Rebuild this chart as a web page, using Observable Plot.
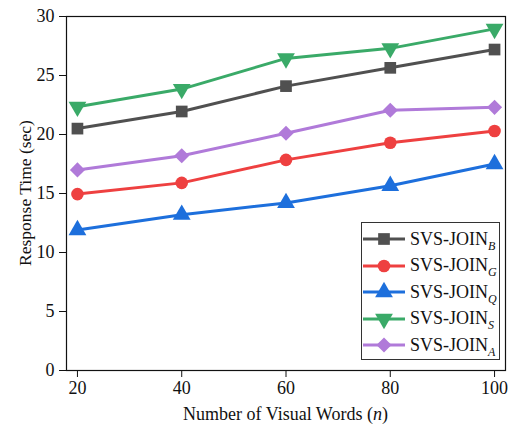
<!DOCTYPE html>
<html>
<head>
<meta charset="utf-8">
<script src="https://cdn.jsdelivr.net/npm/d3@7"></script>
<script src="https://cdn.jsdelivr.net/npm/@observablehq/plot@0.6"></script>
<style>
  html, body { margin: 0; padding: 0; background: #fff; }
  #wrap { position: relative; width: 517px; height: 433px; font-family: "Liberation Serif", "Times New Roman", serif; }
  #xlabel { position: absolute; left: 66px; width: 439px; top: 403px; line-height: 22px; text-align: center; font-size: 18px; color: #111; }
  #ylabel { position: absolute; left: 25px; top: 193px; transform: translate(-50%, -50%) rotate(-90deg); white-space: nowrap; font-size: 17.5px; line-height: 20px; color: #111; }
  #legend { position: absolute; left: 361px; top: 222px; width: 139px; height: 138px; border: 1px solid #333; box-sizing: border-box; background: #fff; }
  .row { position: absolute; left: 0; height: 26px; display: flex; align-items: center; font-size: 18px; color: #111; }
  .row svg { display: block; }
  .row span { margin-left: 4px; white-space: nowrap; }
  .row sub { font-style: italic; font-size: 12px; vertical-align: -5px; line-height: 0; }
</style>
</head>
<body>
<div id="wrap"></div>
<script>
const words = [20, 40, 60, 80, 100];
const seriesNames = ["B", "G", "Q", "S", "A"];
const valuesB = [20.5, 21.95, 24.1, 25.65, 27.2];
const valuesG = [14.95, 15.9, 17.85, 19.3, 20.3];
const valuesQ = [11.9, 13.2, 14.2, 15.65, 17.5];
const valuesS = [22.35, 23.85, 26.45, 27.3, 28.95];
const valuesA = [17.0, 18.2, 20.1, 22.05, 22.3];
const yTicks = [0, 5, 10, 15, 20, 25, 30];

const colors = { B: "#505050", G: "#ee4040", Q: "#1d6fdc", S: "#3aaa68", A: "#b07ad9" };

const triangleDown = {
  draw(context, size) {
    const y = -Math.sqrt(size / (Math.sqrt(3) * 3));
    context.moveTo(0, -2 * y);
    context.lineTo(-Math.sqrt(3) * y, y);
    context.lineTo(Math.sqrt(3) * y, y);
    context.closePath();
  }
};
const symbols = { B: d3.symbolSquare, G: d3.symbolCircle, Q: d3.symbolTriangle, S: triangleDown, A: d3.symbolDiamond2 };
const radii = { B: 6.6, G: 6.3, Q: 6.6, S: 6.6, A: 6.8 };

const valueMap = { B: valuesB, G: valuesG, Q: valuesQ, S: valuesS, A: valuesA };
const rows = [];
for (const s of seriesNames) valueMap[s].forEach((v, i) => rows.push({ s, x: words[i], y: v }));

const marks = [Plot.frame({ stroke: "#111", strokeWidth: 1.2 })];
for (const s of seriesNames) {
  const d = rows.filter(r => r.s === s);
  marks.push(Plot.line(d, { x: "x", y: "y", stroke: colors[s], strokeWidth: 3 }));
  marks.push(Plot.dot(d, { x: "x", y: "y", fill: colors[s], symbol: () => symbols[s], r: radii[s], stroke: "none" }));
}

const chart = Plot.plot({
  width: 517,
  height: 433,
  marginLeft: 66,
  marginRight: 12,
  marginTop: 16,
  marginBottom: 63,
  style: { fontFamily: "'Liberation Serif', 'Times New Roman', serif", fontSize: "18px", color: "#111", background: "#fff" },
  symbol: { type: "identity" },
  x: { domain: [17.9, 102.1], ticks: words, tickFormat: d => String(d), tickSize: 7, tickPadding: 4, label: null },
  y: { domain: [0, 30], ticks: yTicks, tickSize: 7, tickPadding: 5, label: null },
  marks
});
const wrap = document.getElementById("wrap");
wrap.appendChild(chart);

const yl = document.createElement("div");
yl.id = "ylabel";
yl.textContent = "Response Time (sec)";
wrap.appendChild(yl);

const xl = document.createElement("div");
xl.id = "xlabel";
xl.innerHTML = "Number of Visual Words (<i>n</i>)";
wrap.appendChild(xl);

const legend = document.createElement("div");
legend.id = "legend";
seriesNames.forEach((s, i) => {
  const row = document.createElement("div");
  row.className = "row";
  row.style.top = (3 + i * 26.5) + "px";
  const svg = d3.create("svg").attr("width", 44).attr("height", 26);
  svg.append("line").attr("x1", 1).attr("x2", 43).attr("y1", 13).attr("y2", 13).attr("stroke", colors[s]).attr("stroke-width", 3);
  const area = Math.PI * radii[s] * radii[s];
  svg.append("path").attr("transform", "translate(22,13)").attr("d", d3.symbol(symbols[s], area)()).attr("fill", colors[s]);
  row.appendChild(svg.node());
  const label = document.createElement("span");
  label.innerHTML = "SVS-JOIN<sub>" + s + "</sub>";
  row.appendChild(label);
  legend.appendChild(row);
});
wrap.appendChild(legend);
</script>
</body>
</html>
